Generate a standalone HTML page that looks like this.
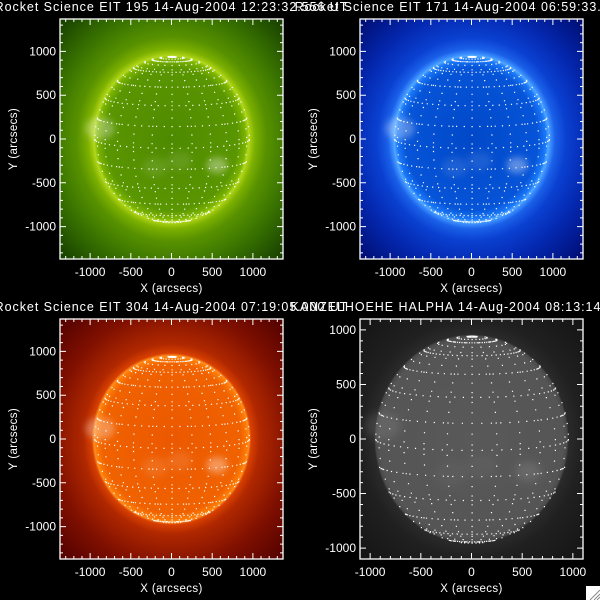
<!DOCTYPE html>
<html><head><meta charset="utf-8">
<style>
html,body{margin:0;padding:0;background:#000;width:600px;height:600px;overflow:hidden}
svg text{font-family:"Liberation Sans",sans-serif;fill:#fff}
</style></head>
<body>
<svg id="root" width="600" height="600" viewBox="0 0 600 600" xmlns="http://www.w3.org/2000/svg">
<defs>
<radialGradient id="g195" gradientUnits="userSpaceOnUse" cx="0" cy="0" r="1940">
<stop offset="0" stop-color="#4e8a00"/><stop offset="0.42" stop-color="#5a9600"/>
<stop offset="0.47" stop-color="#7cb400"/><stop offset="0.49" stop-color="#b0d820"/>
<stop offset="0.5" stop-color="#a4cc10"/><stop offset="0.53" stop-color="#7cb000"/>
<stop offset="0.6" stop-color="#589200"/><stop offset="0.75" stop-color="#3a7400"/>
<stop offset="1" stop-color="#143c00"/></radialGradient>
<radialGradient id="g171" gradientUnits="userSpaceOnUse" cx="0" cy="0" r="1940">
<stop offset="0" stop-color="#0048c8"/><stop offset="0.42" stop-color="#0654d8"/>
<stop offset="0.47" stop-color="#1a78f8"/><stop offset="0.49" stop-color="#50a8ff"/>
<stop offset="0.5" stop-color="#3c90ff"/><stop offset="0.53" stop-color="#1a60e8"/>
<stop offset="0.6" stop-color="#0a40d0"/><stop offset="0.75" stop-color="#0428b0"/>
<stop offset="1" stop-color="#000c70"/></radialGradient>
<radialGradient id="g304" gradientUnits="userSpaceOnUse" cx="0" cy="0" r="1940">
<stop offset="0" stop-color="#ec5800"/><stop offset="0.44" stop-color="#f06200"/>
<stop offset="0.48" stop-color="#fc7c08"/><stop offset="0.49" stop-color="#ff9020"/>
<stop offset="0.505" stop-color="#d84000"/><stop offset="0.56" stop-color="#b02800"/>
<stop offset="0.75" stop-color="#801000"/><stop offset="1" stop-color="#500000"/></radialGradient>
<radialGradient id="gha" gradientUnits="userSpaceOnUse" cx="0" cy="0" r="1560">
<stop offset="0" stop-color="#595959"/><stop offset="0.58" stop-color="#555"/>
<stop offset="0.605" stop-color="#4a4a4a"/><stop offset="0.615" stop-color="#2a2a2a"/>
<stop offset="0.7" stop-color="#202020"/><stop offset="1" stop-color="#141414"/></radialGradient>
<filter id="blur" x="-50%" y="-50%" width="200%" height="200%"><feGaussianBlur stdDeviation="40"/></filter>
</defs>
</svg>
<script>
// Panel configuration values (data)
const panelTitles = ["Rocket Science EIT 195 14-Aug-2004 12:23:32.556 UT","Rocket Science EIT 171 14-Aug-2004 06:59:33.000 UT","Rocket Science EIT 304 14-Aug-2004 07:19:05.000 UT","KANZELHOEHE HALPHA 14-Aug-2004 08:13:14.000 UT"];
const panelRanges = [1370,1370,1370,1100];
const panelFills = ["g195","g171","g304","gha"];
const tickLabels = [-1000,-500,0,500,1000];
const gridLatitudes = [-75,-60,-45,-30,-15,0,15,30,45,60,75];
const gridLongitudes = [-180,-165,-150,-135,-120,-105,-90,-75,-60,-45,-30,-15,0,15,30,45,60,75,90,105,120,135,150,165];
const solarRadius = 950;
const b0Angle = 6;
const activeRegions = [[-880,120,180,0.3],[560,-300,130,0.35],[-200,-320,160,0.1],[100,-250,150,0.1]];

const NS="http://www.w3.org/2000/svg";
const root=document.getElementById('root');
function el(tag,attrs,parent){const e=document.createElementNS(NS,tag);for(const k in attrs)e.setAttribute(k,attrs[k]);(parent||root).appendChild(e);return e;}

const boxes=[[60,19],[360,19],[60,319],[360,319]];
const W=223,H=240;
const names=["eit-195-panel","eit-171-panel","eit-304-panel","halpha-panel"];

panelTitles.forEach((title,i)=>{
  const [bx,by]=boxes[i];const rng=panelRanges[i];
  const sx=W/(2*rng), sy=H/(2*rng);
  const cx=bx+W/2, cy=by+H/2;
  const X=v=>cx+v*sx, Y=v=>cy-v*sy;
  const g=el('g',{});
  
  
  const clip=el('clipPath',{id:'c'+i},g);el('rect',{x:bx,y:by,width:W,height:H},clip);
  const img=el('g',{'clip-path':'url(#c'+i+')'},g);
  const inner=el('g',{transform:`translate(${cx},${cy}) scale(${sx},${-sy})`},img);
  const bg=el('rect',{x:-rng-50,y:-rng-50,width:2*rng+100,height:2*rng+100,fill:'url(#'+panelFills[i]+')'},inner);
  
  
  activeRegions.forEach(a=>{
    el('ellipse',{cx:a[0],cy:a[1],rx:a[2],ry:a[2]*0.7,fill:i==3?'#bbb':'#fff','fill-opacity':i==3?a[3]*0.5:a[3],filter:'url(#blur)'},inner);
  });
  // heliographic grid dots
  const b=b0Angle*Math.PI/180;
  const pts=[];
  const proj=(lat,lon)=>{const p=lat*Math.PI/180,l=lon*Math.PI/180;
    const x=solarRadius*Math.cos(p)*Math.sin(l);
    const y=solarRadius*(Math.sin(p)*Math.cos(b)-Math.cos(p)*Math.cos(l)*Math.sin(b));
    const z=Math.sin(p)*Math.sin(b)+Math.cos(p)*Math.cos(l)*Math.cos(b);
    if(z>0)pts.push([x,y]);};
  gridLatitudes.forEach(lat=>{for(let lon=-180;lon<180;lon+=6)proj(lat,lon);});
  gridLongitudes.forEach(lon=>{for(let lat=-87;lat<=87;lat+=6)proj(lat,lon);});
  let d='';pts.forEach(p=>{d+=`M${X(p[0]).toFixed(1)} ${Y(p[1]).toFixed(1)}h1.2v1.2h-1.2z`;});
  const grid=el('path',{d:d,fill:'#fff'},img);
  
  
  // frame
  el('rect',{x:bx,y:by,width:W,height:H,fill:'none',stroke:'#fff','stroke-width':1.3},g);
  let td='';
  for(let v=-Math.floor(rng/100)*100;v<=rng;v+=100){
    const L=(v%500===0)?6:3;
    const x=X(v),y=Y(v);
    td+=`M${x} ${by+H}v${-L}M${x} ${by}v${L}M${bx} ${y}h${L}M${bx+W} ${y}h${-L}`;
  }
  el('path',{d:td,stroke:'#fff','stroke-width':1,fill:'none'},g);
  tickLabels.forEach(v=>{
    const t=el('text',{x:X(v),y:by+H+17,'text-anchor':'middle','font-size':12},g);t.textContent=v;
    
    
    const u=el('text',{x:bx-4,y:Y(v)+4,'text-anchor':'end','font-size':12},g);u.textContent=v;
    
    
  });
  const xt=el('text',{x:cx,y:by+H+33,'text-anchor':'middle','font-size':11.5,'letter-spacing':0.4},g);xt.textContent='X (arcsecs)';
  
  
  const yt=el('text',{x:0,y:0,'text-anchor':'middle','font-size':11.5,'letter-spacing':0.4,transform:`translate(${bx-43},${cy}) rotate(-90)`},g);yt.textContent='Y (arcsecs)';
  
  
  const tt=el('text',{x:cx,y:by-8,'text-anchor':'middle','font-size':12.5,'letter-spacing':0.95},g);tt.textContent=title;
  
  
});
// resize corner
const rc=el('g',{});


el('rect',{x:586,y:586,width:14,height:14,fill:'#fff'},rc);
el('path',{d:'M590 600L600 590M594 600L600 594M597 600L600 597',stroke:'#888','stroke-width':1},rc);
</script>
</body></html>
